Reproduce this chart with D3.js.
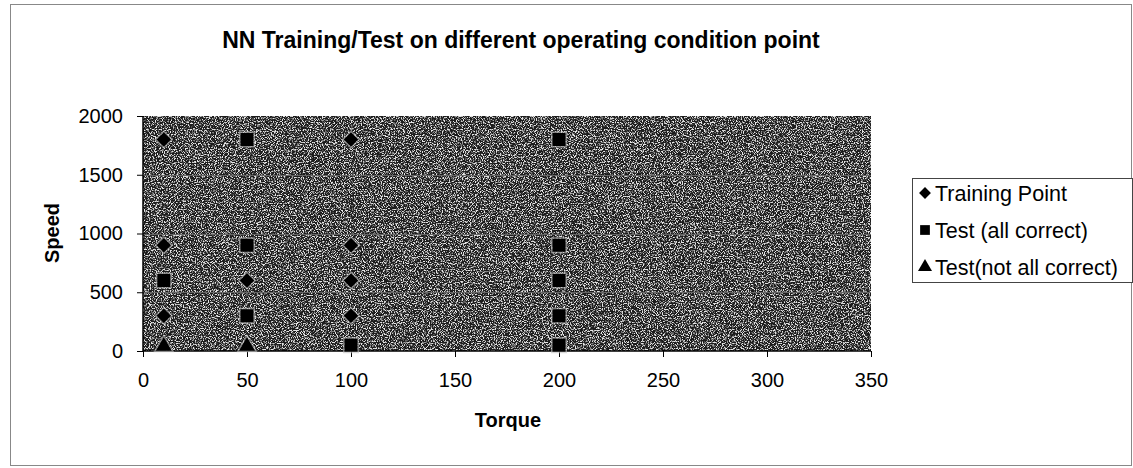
<!DOCTYPE html>
<html>
<head>
<meta charset="utf-8">
<script src="https://cdn.jsdelivr.net/npm/d3@7"></script>
<style>
  html, body { margin: 0; padding: 0; background: #fff; }
  svg { display: block; font-family: "Liberation Sans", Arial, sans-serif; }
</style>
</head>
<body>
<div id="chart"></div>
<script>
// Series values (torque, speed)
var trainingTorque = [10, 100, 10, 100, 50, 100, 10, 100];
var trainingSpeed  = [1800, 1800, 900, 900, 600, 600, 300, 300];

var testOkTorque = [50, 200, 50, 200, 10, 200, 50, 200, 100, 200];
var testOkSpeed  = [1800, 1800, 900, 900, 600, 600, 300, 300, 50, 50];

var testBadTorque = [10, 50];
var testBadSpeed  = [50, 50];

var xTicks = [0, 50, 100, 150, 200, 250, 300, 350];
var yTicks = [0, 500, 1000, 1500, 2000];

var seriesNames = ['Training Point', 'Test (all correct)', 'Test(not all correct)'];

var W = 1133, H = 468;
var plot = { left: 143, right: 871, top: 116, bottom: 351 };
var FONT = '"Liberation Sans", Arial, sans-serif';

var svg = d3.select('#chart').append('svg')
    .attr('width', W).attr('height', H);

// Grain filter for the scanned, halftoned plot background
var defs = svg.append('defs');
var f = defs.append('filter').attr('id', 'grain')
    .attr('x', 0).attr('y', 0).attr('width', '100%').attr('height', '100%');
f.append('feTurbulence')
    .attr('type', 'fractalNoise')
    .attr('baseFrequency', 0.85)
    .attr('numOctaves', 2)
    .attr('seed', 7);
f.append('feColorMatrix').attr('type', 'matrix')
    .attr('values', '0 0 0 0 0.78  0 0 0 0 0.78  0 0 0 0 0.78  5.5 0 0 0 -2.6');

// Outer chart border
svg.append('rect')
    .attr('x', 10.5).attr('y', 4.5)
    .attr('width', W - 12).attr('height', H - 7)
    .attr('fill', 'none')
    .attr('stroke', '#888').attr('stroke-width', 1);

var x = d3.scaleLinear().domain([0, 350]).range([plot.left, plot.right]);
var y = d3.scaleLinear().domain([0, 2000]).range([plot.bottom, plot.top]);

// Plot area
svg.append('rect')
    .attr('x', plot.left).attr('y', plot.top)
    .attr('width', plot.right - plot.left).attr('height', plot.bottom - plot.top)
    .attr('fill', '#1c1c1c');
svg.append('rect')
    .attr('x', plot.left).attr('y', plot.top)
    .attr('width', plot.right - plot.left).attr('height', plot.bottom - plot.top)
    .attr('filter', 'url(#grain)');

// Gridlines
svg.append('g').selectAll('line')
    .data(yTicks.filter(function (d) { return d > 0 && d < 2000; }))
    .enter().append('line')
    .attr('x1', plot.left).attr('x2', plot.right)
    .attr('y1', function (d) { return Math.round(y(d)) + 0.5; })
    .attr('y2', function (d) { return Math.round(y(d)) + 0.5; })
    .attr('stroke', '#666').attr('stroke-width', 1);

// Axes
var xAxis = d3.axisBottom(x).tickValues(xTicks).tickFormat(d3.format('d'))
    .tickSize(6).tickPadding(16);
var yAxis = d3.axisLeft(y).tickValues(yTicks).tickFormat(d3.format('d'))
    .tickSize(6).tickPadding(14);

var gx = svg.append('g')
    .attr('transform', 'translate(0,' + plot.bottom + ')')
    .call(xAxis);
var gy = svg.append('g')
    .attr('transform', 'translate(' + plot.left + ',0)')
    .call(yAxis);

[gx, gy].forEach(function (g) {
    g.selectAll('path.domain').attr('stroke', '#000').attr('stroke-width', 1.5);
    g.selectAll('.tick line').attr('stroke', '#000');
    g.selectAll('.tick text')
        .attr('fill', '#000')
        .style('font-family', FONT)
        .style('font-size', '20px');
});
gx.select('path.domain').attr('d', 'M' + plot.left + ',0H' + plot.right);
gy.select('path.domain').attr('d', 'M0,' + plot.bottom + 'V' + plot.top);

// Marker shapes: diamond is a square turned 45 degrees
var sym = d3.symbol();
var shapes = [
    { type: d3.symbolSquare, size: 105, rot: 45 },
    { type: d3.symbolSquare, size: 170, rot: 0 },
    { type: d3.symbolTriangle, size: 110, rot: 0 }
];

function drawSeries(tx, sp, s, dy) {
    svg.append('g').selectAll('path')
        .data(tx.map(function (t, i) { return [t, sp[i]]; }))
        .enter().append('path')
        .attr('transform', function (d) {
            return 'translate(' + x(d[0]) + ',' + (y(d[1]) + (dy || 0)) + ') rotate(' + s.rot + ')';
        })
        .attr('d', sym.type(s.type).size(s.size)())
        .attr('fill', '#000')
        .attr('stroke', '#c0c0c0')
        .attr('stroke-width', 3)
        .attr('stroke-opacity', 0.6)
        .attr('paint-order', 'stroke');
}
drawSeries(trainingTorque, trainingSpeed, shapes[0]);
drawSeries(testOkTorque, testOkSpeed, shapes[1]);
drawSeries(testBadTorque, testBadSpeed, shapes[2], 1);

// Title and axis titles
svg.append('text')
    .attr('x', 521).attr('y', 48)
    .attr('text-anchor', 'middle')
    .style('font-size', '23px').style('font-weight', 'bold')
    .text('NN Training/Test on different operating condition point');

svg.append('text')
    .attr('x', 508).attr('y', 427)
    .attr('text-anchor', 'middle')
    .style('font-size', '20px').style('font-weight', 'bold')
    .text('Torque');

svg.append('text')
    .attr('transform', 'translate(59,233) rotate(-90)')
    .attr('text-anchor', 'middle')
    .style('font-size', '20px').style('font-weight', 'bold')
    .text('Speed');

// Legend
var lg = svg.append('g');
lg.append('rect')
    .attr('x', 912.5).attr('y', 178.5)
    .attr('width', 220).attr('height', 104)
    .attr('fill', '#fff')
    .attr('stroke', '#444').attr('stroke-width', 1);
var rows = [193, 230, 267];
var legendSizes = [70, 95, 85];
seriesNames.forEach(function (name, i) {
    lg.append('path')
        .attr('transform', 'translate(925,' + rows[i] + ') rotate(' + shapes[i].rot + ')')
        .attr('d', sym.type(shapes[i].type).size(legendSizes[i])())
        .attr('fill', '#000');
    lg.append('text')
        .attr('x', 935).attr('y', rows[i])
        .attr('dy', '0.35em')
        .style('font-size', '21.5px')
        .text(name);
});
</script>
</body>
</html>
